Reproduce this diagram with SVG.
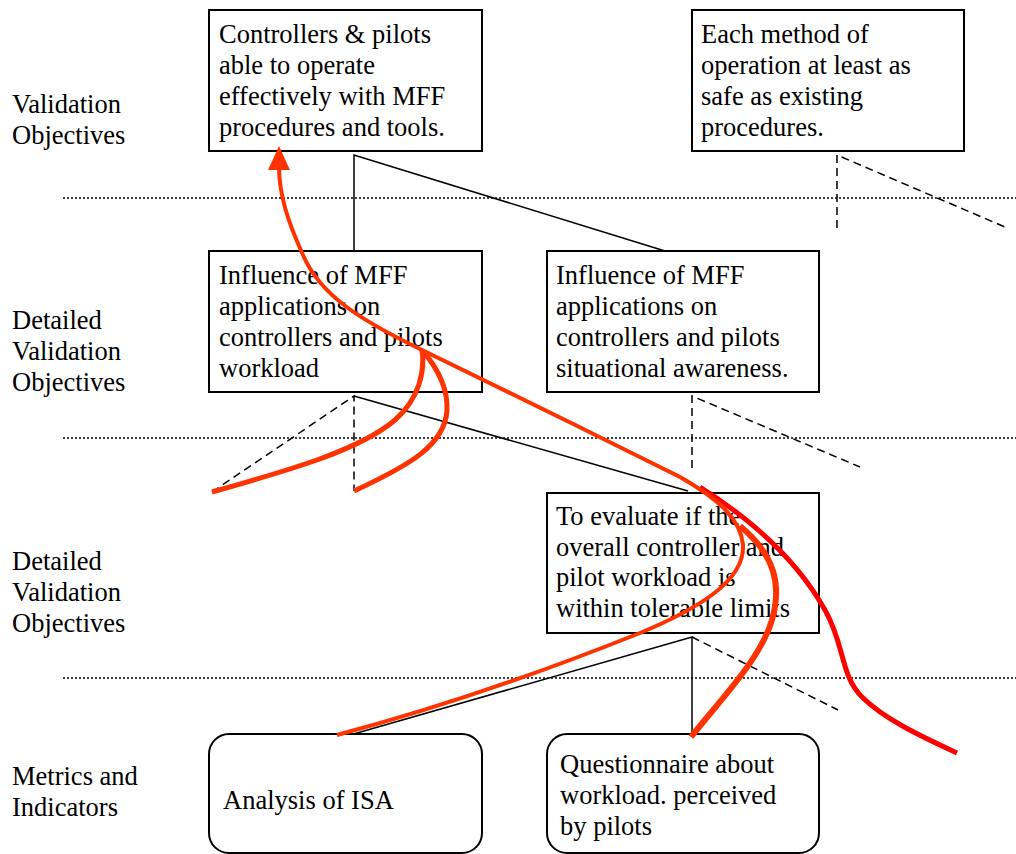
<svg xmlns="http://www.w3.org/2000/svg" width="1016" height="854" viewBox="0 0 1016 854" font-family="'Liberation Serif', 'Times New Roman', 'DejaVu Serif', serif">
<style>
text{font-family:'Liberation Serif','Times New Roman','DejaVu Serif',serif;font-size:26.5px;fill:#000}
.box{fill:#fff;stroke:#000;stroke-width:2}
.ln{fill:none;stroke:#000;stroke-width:1.5}
.dash{fill:none;stroke:#000;stroke-width:1.5;stroke-dasharray:8 5}
.dot{fill:none;stroke:#000;stroke-width:1.5;stroke-dasharray:2 2}
.or{fill:none;stroke:#ff3300;stroke-linecap:butt}
.rd{fill:none;stroke:#ff0000}
</style>
<defs>
<marker id="ah" markerUnits="userSpaceOnUse" markerWidth="26" markerHeight="26" viewBox="0 0 26 26" refX="4" refY="13" orient="auto">
<path d="M0,2 L24,13 L0,24 Z" fill="#ff3300"/>
</marker>
</defs>
<g id="levels">
<path class="dot" d="M63,198H1016M63,438H1016M63,678H1016"/>
<text x="12" y="113">Validation</text>
<text x="12" y="144">Objectives</text>
<text x="12" y="329">Detailed</text>
<text x="12" y="360">Validation</text>
<text x="12" y="391">Objectives</text>
<text x="12" y="570">Detailed</text>
<text x="12" y="601">Validation</text>
<text x="12" y="632">Objectives</text>
<text x="12" y="785">Metrics and</text>
<text x="12" y="816">Indicators</text>
</g>
<g id="connectors">
<path class="ln" d="M354,251V155L665,251"/>
<path class="dash" d="M837,228V155L1005,227"/>
<path class="dash" d="M212,492L354,396V491"/>
<path class="ln" d="M354,396L688,491"/>
<path class="dash" d="M692,468V396L860,467"/>
<path class="ln" d="M350,735L692,637V735"/>
<path class="dash" d="M692,637L838,710"/>
</g>
<g id="node1"><rect class="box" x="209" y="10" width="273" height="141"/>
<text x="219" y="43">Controllers &amp; pilots</text><text x="219" y="74">able to operate</text><text x="219" y="105">effectively with MFF</text><text x="219" y="136">procedures and tools.</text></g>
<g id="node2"><rect class="box" x="692" y="10" width="272" height="141"/>
<text x="701" y="43">Each method of</text><text x="701" y="74">operation at least as</text><text x="701" y="105">safe as existing</text><text x="701" y="136">procedures.</text></g>
<g id="node3"><rect class="box" x="209" y="251" width="273" height="141"/>
<text x="219" y="284">Influence of MFF</text><text x="219" y="315">applications on</text><text x="219" y="346">controllers and pilots</text><text x="219" y="377">workload</text></g>
<g id="node4"><rect class="box" x="547" y="251" width="272" height="141"/>
<text x="556" y="284">Influence of MFF</text><text x="556" y="315">applications on</text><text x="556" y="346">controllers and pilots</text><text x="556" y="377">situational awareness.</text></g>
<g id="node5"><rect class="box" x="547" y="493" width="272" height="140"/>
<text x="556" y="525">To evaluate if the</text><text x="556" y="556">overall controller and</text><text x="556" y="586">pilot workload is</text><text x="556" y="617">within tolerable limits</text></g>
<g id="node6"><rect class="box" x="209" y="734" width="273" height="119" rx="20"/>
<text x="223" y="809">Analysis of ISA</text></g>
<g id="node7"><rect class="box" x="547" y="734" width="272" height="119" rx="20"/>
<text x="560" y="773">Questionnaire about</text><text x="560" y="804">workload. perceived</text><text x="560" y="835">by pilots</text></g>
<g id="flows">
<path class="rd" stroke-width="5" d="M700,487 C760,525 800,565 825,610 C845,645 840,675 862,697 C885,720 925,738 957,753"/>
<path class="or" stroke-width="5" d="M212,492 C290,470 360,450 395,420 C420,398 425,370 422,350"/>
<path class="or" stroke-width="5" d="M354,491 C410,465 445,445 447,410 C448,385 435,365 422,350"/>
<path class="or" stroke-width="6" d="M691,737 C720,700 760,660 772,620 C782,585 775,555 740,526"/>
<path class="or" stroke-width="4" marker-end="url(#ah)" d="M337,735 C450,705 560,665 640,633 C700,608 745,580 743,545 C741,520 720,500 680,477 C600,437 480,378 422,350 C360,320 320,295 303,255 C288,222 279,195 279,166"/>
</g>
</svg>
